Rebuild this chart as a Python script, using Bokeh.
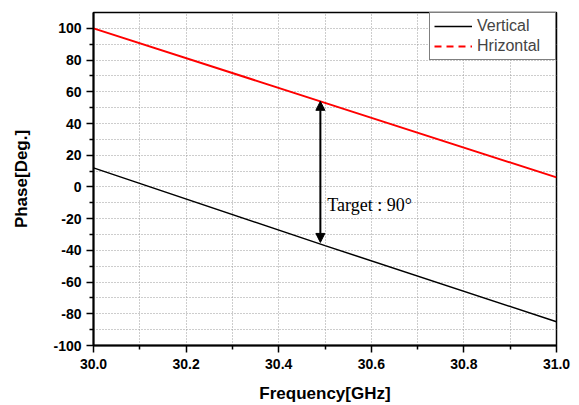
from bokeh.plotting import figure
from bokeh.models import (ColumnDataSource, Range1d, FixedTicker, NumeralTickFormatter,
                          Legend, LegendItem, Arrow, NormalHead, Label)
from bokeh.embed import file_html
from bokeh.resources import INLINE

# Data
freq = [30.0, 30.5, 31.0]
vertical = [12, -37, -85]
hrizontal = [100, 53, 6]

x_ticks = [30.0, 30.2, 30.4, 30.6, 30.8, 31.0]
x_minor = [30.1, 30.3, 30.5, 30.7, 30.9]
y_ticks = [-100, -80, -60, -40, -20, 0, 20, 40, 60, 80, 100]
y_minor = [-90, -70, -50, -30, -10, 10, 30, 50, 70, 90]

arrow_x = 30.49
arrow_y0 = -35
arrow_y1 = 54
annot_x = 30.505
annot_y = -11.5
annot_text = "Target : 90°"

p = figure(width=579, height=405, output_backend="svg", toolbar_location=None,
           x_range=Range1d(30.0, 31.0), y_range=Range1d(-100, 110),
           min_border_left=93, min_border_right=23, min_border_top=12, min_border_bottom=57)

p.outline_line_color = "black"
p.outline_line_width = 1.5
p.background_fill_color = "white"
p.border_fill_color = "white"

for ax in (p.xaxis[0], p.yaxis[0]):
    ax.axis_line_width = 2
    ax.axis_line_color = "black"
    ax.major_tick_line_color = "black"
    ax.major_tick_line_width = 1.5
    ax.minor_tick_line_color = "black"
    ax.minor_tick_line_width = 1.5
    ax.major_tick_in = 0
    ax.major_tick_out = 7
    ax.minor_tick_in = 0
    ax.minor_tick_out = 4
    ax.major_label_text_font = "Liberation Sans"
    ax.major_label_text_font_style = "bold"
    ax.major_label_text_font_size = "14px"
    ax.major_label_text_color = "black"
    ax.axis_label_text_font = "Liberation Sans"
    ax.axis_label_text_font_style = "bold"
    ax.axis_label_text_font_size = "17px"
    ax.axis_label_text_color = "black"

p.xaxis.ticker = FixedTicker(ticks=x_ticks, minor_ticks=x_minor)
p.yaxis.ticker = FixedTicker(ticks=y_ticks, minor_ticks=y_minor)
p.xaxis.formatter = NumeralTickFormatter(format="0.0")
p.yaxis.formatter = NumeralTickFormatter(format="0")
p.xaxis.axis_label = "Frequency[GHz]"
p.yaxis.axis_label = "Phase[Deg.]"
p.xaxis.major_label_standoff = 6
p.xaxis.axis_label_standoff = 12
p.yaxis.major_label_standoff = 5
p.yaxis.axis_label_standoff = 19

for g in (p.xgrid[0], p.ygrid[0]):
    g.grid_line_color = "#9a9a9a"
    g.grid_line_dash = "1 2"
    g.grid_line_width = 1
    g.minor_grid_line_color = "#9a9a9a"
    g.minor_grid_line_dash = "1 2"
    g.minor_grid_line_width = 1

src = ColumnDataSource(dict(f=freq, v=vertical, h=hrizontal))
r_v = p.line("f", "v", source=src, line_color="black", line_width=1.5)
p.line("f", "h", source=src, line_color="#ff0000", line_width=2)
# legend swatch for the dashed red series (no visible data)
leg_src = ColumnDataSource(dict(f=[float("nan")], h=[float("nan")]))
r_h_leg = p.line("f", "h", source=leg_src, line_color="#ff0000", line_width=2, line_dash="7 5")

arrow = Arrow(x_start=arrow_x, y_start=arrow_y0, x_end=arrow_x, y_end=arrow_y1,
              line_color="black", line_width=2,
              start=NormalHead(size=9, fill_color="black", line_color="black"),
              end=NormalHead(size=9, fill_color="black", line_color="black"))
p.add_layout(arrow)

p.add_layout(Label(x=annot_x, y=annot_y, text=annot_text, text_font="Liberation Serif",
                   text_font_size="18px", text_baseline="middle", text_align="left",
                   text_color="black"))

legend = Legend(items=[LegendItem(label="Vertical", renderers=[r_v]),
                       LegendItem(label="Hrizontal", renderers=[r_h_leg])],
                location="top_right", margin=0, padding=4, spacing=2,
                glyph_width=38, glyph_height=18, label_height=18, label_width=74,
                label_standoff=5, label_text_font="Liberation Sans",
                label_text_font_size="16px", border_line_color="black",
                border_line_width=1, background_fill_alpha=1.0)
p.add_layout(legend)

open("out.html", "w").write(file_html(p, INLINE))
